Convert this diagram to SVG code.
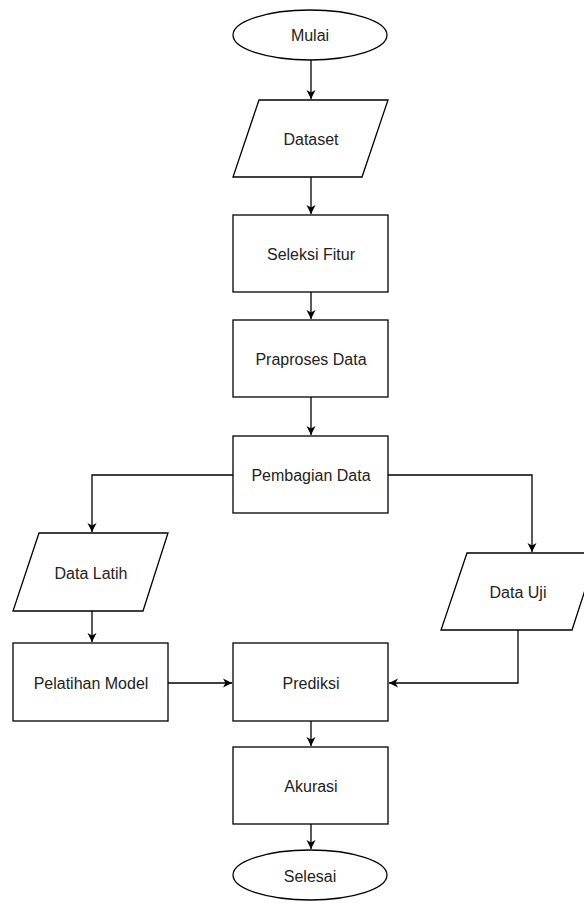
<svg xmlns="http://www.w3.org/2000/svg" width="584" height="911" viewBox="0 0 584 911">
<style>
.s{fill:#fff;stroke:#000;stroke-width:1.3}
.c{fill:none;stroke:#000;stroke-width:1.3}
text{font-family:"Liberation Sans",Arial,sans-serif;font-size:16px;fill:#222;text-anchor:middle;dominant-baseline:central}
</style>
<defs>
<marker id="a" markerWidth="10" markerHeight="10" refX="9" refY="5" orient="auto" markerUnits="userSpaceOnUse">
<path d="M0,0.5 L9,5 L0,9.5 L2.5,5 Z" fill="#000"/>
</marker>
</defs>
<rect width="584" height="911" fill="#fff"/>
<g id="connectors">
<path class="c" d="M311,60 V99" marker-end="url(#a)"/>
<path class="c" d="M311,177 V214" marker-end="url(#a)"/>
<path class="c" d="M311,292 V319" marker-end="url(#a)"/>
<path class="c" d="M311,397 V435" marker-end="url(#a)"/>
<path class="c" d="M233,475 H92 V532" marker-end="url(#a)"/>
<path class="c" d="M388,475 H532 V552" marker-end="url(#a)"/>
<path class="c" d="M92,611 V642" marker-end="url(#a)"/>
<path class="c" d="M168,683 H232" marker-end="url(#a)"/>
<path class="c" d="M518,630 V683 H389" marker-end="url(#a)"/>
<path class="c" d="M311,721 V746" marker-end="url(#a)"/>
<path class="c" d="M311,824 V849" marker-end="url(#a)"/>
</g>
<g id="mulai"><ellipse class="s" cx="310" cy="35" rx="77" ry="25"/><text x="310" y="35">Mulai</text></g>
<g id="dataset"><path class="s" d="M259,100 H388 L362,177 H233 Z"/><text x="311" y="139">Dataset</text></g>
<g id="seleksi"><rect class="s" x="233" y="215" width="155" height="77"/><text x="311" y="254">Seleksi Fitur</text></g>
<g id="praproses"><rect class="s" x="233" y="320" width="155" height="77"/><text x="311" y="359">Praproses Data</text></g>
<g id="pembagian"><rect class="s" x="233" y="436" width="155" height="77"/><text x="311" y="475">Pembagian Data</text></g>
<g id="datalatih"><path class="s" d="M39,533 H168 L143,611 H13 Z"/><text x="91" y="573">Data Latih</text></g>
<g id="datauji"><path class="s" d="M467,553 H597 L572,630 H441 Z"/><text x="518" y="592">Data Uji</text></g>
<g id="pelatihan"><rect class="s" x="13" y="643" width="155" height="78"/><text x="91" y="683">Pelatihan Model</text></g>
<g id="prediksi"><rect class="s" x="233" y="643" width="155" height="78"/><text x="311" y="683">Prediksi</text></g>
<g id="akurasi"><rect class="s" x="233" y="747" width="155" height="77"/><text x="311" y="786">Akurasi</text></g>
<g id="selesai"><ellipse class="s" cx="310" cy="875" rx="77" ry="25"/><text x="310" y="876">Selesai</text></g>
</svg>
